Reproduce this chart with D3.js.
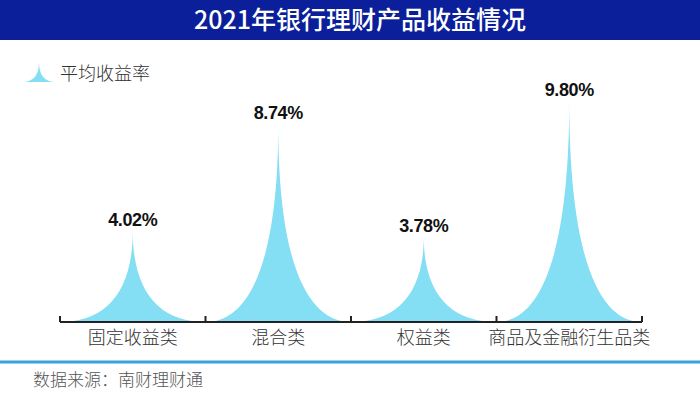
<!DOCTYPE html>
<html>
<head>
<meta charset="utf-8">
<script src="https://cdn.jsdelivr.net/npm/d3@7"></script>
<style>
  html, body { margin: 0; padding: 0; background: #fff; }
  svg { display: block; font-family: "Noto Sans CJK SC", "Noto Sans", sans-serif; }
</style>
</head>
<body>
<svg width="700" height="396"></svg>
<script>
"use strict";

const title = "2021年银行理财产品收益情况";
const legendLabel = "平均收益率";
const source = "数据来源：南财理财通";
const categories = ["固定收益类", "混合类", "权益类", "商品及金融衍生品类"];
const yields = [4.02, 8.74, 3.78, 9.80];

const svg = d3.select("svg");
const W = +svg.attr("width");
const Padding = {LEFT: 60, RIGHT: 58, BASE: 322, TOP: 96};
const spikeColor = "#84def4";

// title bar
svg.append("rect")
    .attr("x", 0).attr("y", 0)
    .attr("width", W).attr("height", 40)
    .attr("fill", "#0b1f9a");
svg.append("text")
    .attr("x", 360).attr("y", 29)
    .attr("text-anchor", "middle")
    .attr("fill", "#fff")
    .attr("font-size", 25)
    .attr("font-weight", 500)
    .text(title);

const x = d3.scaleBand()
    .domain(categories)
    .range([Padding.LEFT, W - Padding.RIGHT])
    .padding(0);

const y = d3.scaleLinear()
    .domain([0, 10])
    .range([Padding.BASE, Padding.TOP]);

// spike shape: concave sides meeting at a sharp point
function spike(cx, hw, base, top) {
    const p = d3.path();
    const h = base - top;
    p.moveTo(cx - hw, base);
    p.bezierCurveTo(cx - hw * 0.4, base, cx, base - h * 0.3, cx, top);
    p.bezierCurveTo(cx, base - h * 0.3, cx + hw * 0.4, base, cx + hw, base);
    p.closePath();
    return p.toString();
}

svg.append("g")
    .selectAll("path")
    .data(yields)
    .enter()
    .append("path")
    .attr("fill", spikeColor)
    .attr("d", (d, i) => spike(x(categories[i]) + x.bandwidth() / 2, x.bandwidth() / 2, y(0), y(d)));

// value labels
svg.append("g")
    .selectAll("text")
    .data(yields)
    .enter()
    .append("text")
    .attr("x", (d, i) => x(categories[i]) + x.bandwidth() / 2)
    .attr("y", d => y(d) - 5)
    .attr("text-anchor", "middle")
    .attr("font-family", "'Liberation Sans Narrow', sans-serif")
    .attr("font-weight", "bold")
    .attr("font-size", 18)
    .attr("letter-spacing", -0.4)
    .attr("fill", "#111")
    .text(d => d.toFixed(2) + "%");

// axis: line with ticks at band edges, pointing up
const axis = svg.append("g").attr("stroke", "#222");
axis.append("line")
    .attr("x1", x.range()[0]).attr("x2", x.range()[1])
    .attr("y1", y(0)).attr("y2", y(0))
    .attr("stroke-width", 2);
axis.selectAll("line.tick")
    .data(categories.map(c => x(c)).concat([x.range()[1]]))
    .enter()
    .append("line")
    .attr("class", "tick")
    .attr("x1", d => d).attr("x2", d => d)
    .attr("y1", y(0)).attr("y2", y(0) - 6)
    .attr("stroke-width", 2);

svg.append("g")
    .selectAll("text")
    .data(categories)
    .enter()
    .append("text")
    .attr("x", d => x(d) + x.bandwidth() / 2)
    .attr("y", 344)
    .attr("text-anchor", "middle")
    .attr("font-size", 18)
    .attr("font-weight", 300)
    .attr("fill", "#333")
    .text(d => d);

// legend
svg.append("path")
    .attr("fill", spikeColor)
    .attr("d", spike(39, 16, 82, 62));
svg.append("text")
    .attr("x", 60).attr("y", 80)
    .attr("font-size", 18)
    .attr("font-weight", 300)
    .attr("fill", "#333")
    .text(legendLabel);

// footer
svg.append("line")
    .attr("x1", 0).attr("x2", W)
    .attr("y1", 362).attr("y2", 362)
    .attr("stroke", "#3aa3de")
    .attr("stroke-width", 3);
svg.append("text")
    .attr("x", 33).attr("y", 386)
    .attr("font-size", 17)
    .attr("font-weight", 300)
    .attr("fill", "#555")
    .text(source);
</script>
</body>
</html>
